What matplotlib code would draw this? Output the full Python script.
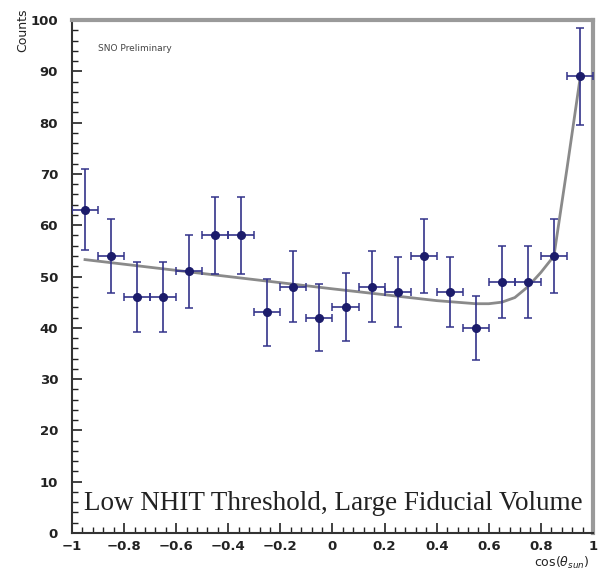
import numpy as np
import matplotlib
matplotlib.use("Agg")
import matplotlib.pyplot as plt
from matplotlib.ticker import MultipleLocator

# ---- data ----
bin_centers = [-0.95, -0.85, -0.75, -0.65, -0.55, -0.45, -0.35, -0.25, -0.15, -0.05,
               0.05, 0.15, 0.25, 0.35, 0.45, 0.55, 0.65, 0.75, 0.85, 0.95]
counts = [63, 54, 46, 46, 51, 58, 58, 43, 48, 42,
          44, 48, 47, 54, 47, 40, 49, 49, 54, 89]
count_err = [7.9, 7.3, 6.8, 6.8, 7.1, 7.6, 7.6, 6.6, 6.9, 6.5,
             6.6, 6.9, 6.9, 7.3, 6.9, 6.3, 7.0, 7.0, 7.3, 9.4]
bin_half = 0.05

fit_x = [-0.95, -0.5, 0.0, 0.4, 0.5, 0.55, 0.6, 0.65, 0.7, 0.75, 0.8, 0.85, 0.9, 0.95]
fit_y = [53.3, 50.6, 47.6, 45.3, 44.9, 44.7, 44.7, 45.0, 45.9, 48.0, 50.8, 54.0, 71.0, 88.5]

x_ticks = [-1, -0.8, -0.6, -0.4, -0.2, 0, 0.2, 0.4, 0.6, 0.8, 1]
x_ticklabels = ["\u22121", "\u22120.8", "\u22120.6", "\u22120.4", "\u22120.2", "0",
                "0.2", "0.4", "0.6", "0.8", "1"]
y_ticks = [0, 10, 20, 30, 40, 50, 60, 70, 80, 90, 100]

fig = plt.figure(figsize=(6.03, 5.73), dpi=100)
ax = fig.add_axes([0.1194, 0.0698, 0.864, 0.8952])

# fit curve
ax.plot(fit_x, fit_y, color="#8a8a8a", lw=2.0, zorder=2)

# data points with error bars
ax.errorbar(bin_centers, counts, xerr=bin_half, yerr=count_err,
            fmt="o", color="#1c1c6b", ecolor="#33338a", elinewidth=1.2,
            capsize=3, capthick=1.1, markersize=5.5, zorder=3)

ax.set_xlim(-1, 1)
ax.set_ylim(0, 100)
ax.set_xticks(x_ticks)
ax.set_xticklabels(x_ticklabels)
ax.set_yticks(y_ticks)
ax.xaxis.set_minor_locator(MultipleLocator(0.04))
ax.yaxis.set_minor_locator(MultipleLocator(2))
ax.tick_params(which="both", direction="in", top=False, right=False,
               labelsize=9.5, colors="#222222")
ax.tick_params(which="major", length=7, width=1.2)
ax.tick_params(which="minor", length=4, width=1.0)
ax.tick_params(axis="y", pad=10)
ax.tick_params(axis="x", pad=5)
for lbl in ax.get_xticklabels() + ax.get_yticklabels():
    lbl.set_fontweight("bold")

for s in ["left", "bottom"]:
    ax.spines[s].set_color("#333333")
    ax.spines[s].set_linewidth(1.5)
for s in ["top", "right"]:
    ax.spines[s].set_color("#9a9a9a")
    ax.spines[s].set_linewidth(3)

ax.text(-0.90, 94.5, "SNO Preliminary", fontsize=6.5, color="#444444",
        ha="left", va="center")
ax.text(-0.955, 5.8, "Low NHIT Threshold, Large Fiducial Volume",
        fontsize=19.5, family="Liberation Serif", color="#222222",
        ha="left", va="center")

fig.text(0.037, 0.985, "Counts", rotation=90, ha="center", va="top",
         fontsize=9, color="#222222")
fig.text(0.978, 0.004, r"cos($\theta_{sun}$)", ha="right", va="bottom",
         fontsize=9, color="#222222")

fig.savefig("out.png", dpi=100)
